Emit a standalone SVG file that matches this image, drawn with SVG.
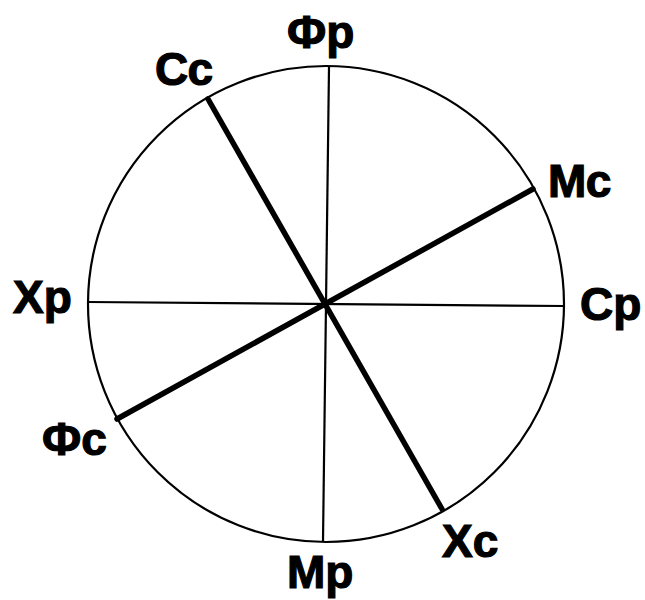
<svg xmlns="http://www.w3.org/2000/svg" width="645" height="600" viewBox="0 0 645 600">
<style>
.lbl{font-family:"Liberation Sans",Arial,sans-serif;font-weight:bold;font-size:46px;fill:#000;stroke:#000;stroke-width:1.2}
.thin{stroke:#000;stroke-width:2.2;fill:none}
.thick{stroke:#000;stroke-width:5.5;fill:none;stroke-linecap:round}
</style>
<rect width="645" height="600" fill="#fff"/>
<g id="circle"><circle cx="326" cy="304" r="238" class="thin"/></g>
<g id="connectors">
<line x1="88" y1="302" x2="564" y2="306" class="thin"/>
<line x1="329" y1="67" x2="323" y2="541" class="thin"/>
<line x1="208" y1="99" x2="442" y2="509" class="thick"/>
<line x1="533" y1="189" x2="117" y2="419" class="thick"/>
</g>
<g id="Fp"><text class="lbl" x="287" y="48">Фр</text></g>
<g id="Cc"><text class="lbl" x="155" y="85">Сс</text></g>
<g id="Mc"><text class="lbl" x="548" y="197">Мс</text></g>
<g id="Xp"><text class="lbl" x="13" y="313">Хр</text></g>
<g id="Cp"><text class="lbl" x="580" y="320">Ср</text></g>
<g id="Fc"><text class="lbl" x="42" y="455">Фс</text></g>
<g id="Xc"><text class="lbl" x="442" y="557">Хс</text></g>
<g id="Mp"><text class="lbl" x="287" y="588">Мр</text></g>
</svg>
